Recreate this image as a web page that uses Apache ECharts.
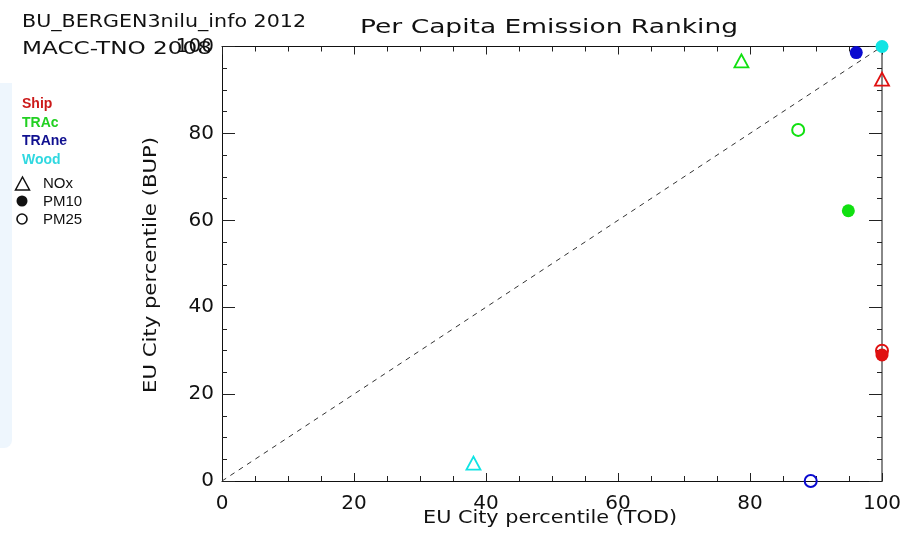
<!DOCTYPE html>
<html>
<head>
<meta charset="utf-8">
<script src="https://cdn.jsdelivr.net/npm/echarts@6/dist/echarts.min.js"></script>
<style>html,body{margin:0;padding:0;background:#fff}#c{width:922px;height:541px}</style>
</head>
<body>
<div id="c"></div>
<script>
// ---- data (x = TOD percentile, y = BUP percentile), order: NOx, PM10, PM25 ----
const species = ['NOx', 'PM10', 'PM25'];
const sources = ['Ship', 'TRAc', 'TRAne', 'Wood'];
const shipX  = [100, 100, 100];
const shipY  = [92.5, 29, 30];
const tracX  = [78.7, 94.9, 87.3];
const tracY  = [96.7, 62.2, 80.8];
const traneX = [null, 96.1, 89.2];
const traneY = [null, 98.6, 0];
const woodX  = [38.1, 100, null];
const woodY  = [4.1, 100, null];
const axisTicks = [0, 20, 40, 60, 80, 100];

const sourceColors = ['#e01010', '#10e010', '#0a0ad0', '#10e4e4'];
const labelColors  = ['#cc1a1a', '#22d022', '#101090', '#30d8e0'];
const sourceX = [shipX, tracX, traneX, woodX];
const sourceY = [shipY, tracY, traneY, woodY];

const chart = echarts.init(document.getElementById('c'), null, {renderer: 'canvas'});

const ctx = document.createElement('canvas').getContext('2d');
function fitScale(text, font, target) {
  ctx.font = font;
  return target / ctx.measureText(text).width;
}

const series = [];
series.push({
  type: 'line', data: [[0, 0], [100, 100]], symbol: 'none', silent: true,
  lineStyle: {color: '#333', width: 1, type: [5, 5]}, z: 1
});
// draw order: PM25 (open), NOx (triangle), PM10 (filled)
const order = [2, 0, 1];
sources.forEach((s, si) => {
  order.forEach(k => {
    const x = sourceX[si][k], y = sourceY[si][k];
    if (x === null || y === null) return;
    const c = sourceColors[si];
    let item;
    if (k === 0) {
      item = {symbol: 'triangle', symbolSize: [14, 13],
        itemStyle: {color: 'rgba(0,0,0,0)', borderColor: c, borderWidth: 1.8, opacity: 1}};
    } else if (k === 1) {
      item = {symbol: 'circle', symbolSize: 13, itemStyle: {color: c, opacity: 1}};
    } else {
      item = {symbol: 'circle', symbolSize: 12,
        itemStyle: {color: 'rgba(0,0,0,0)', borderColor: c, borderWidth: 2, opacity: 1}};
    }
    series.push(Object.assign({
      type: 'scatter', name: s + ' ' + species[k], data: [[x, y]],
      clip: false, z: 3, emphasis: {disabled: true}
    }, item));
  });
});

function axisBase(extra) {
  return Object.assign({
    type: 'value', min: 0, max: 100, interval: 20,
    splitLine: {show: false},
    axisLine: {show: true, onZero: false, lineStyle: {color: '#111', width: 1}},
    axisTick: {show: true, inside: true, length: 8, lineStyle: {color: '#222'}},
    minorTick: {show: true, splitNumber: 4, length: 5, lineStyle: {color: '#222'}},
    axisLabel: {show: false}
  }, extra);
}

const fTitle = '20px "DejaVu Sans"';
const fHead = '18px "DejaVu Sans"';
const fName = '18px "DejaVu Sans"';
const fLeg = 'bold 14px "Liberation Sans"';
const fSym = '15px "Liberation Sans"';

const graphics = [
  {type: 'rect', shape: {x: 0, y: 83, width: 12, height: 365, r: [0, 0, 8, 0]},
   style: {fill: '#eef6fd'}, z: -10, silent: true},
  {type: 'text', x: 549, y: 28, scaleX: fitScale('Per Capita Emission Ranking', fTitle, 378),
   style: {text: 'Per Capita Emission Ranking', font: fTitle, fill: '#111', align: 'center', verticalAlign: 'middle'}},
  {type: 'text', x: 22, y: 22, scaleX: fitScale('BU_BERGEN3nilu_info 2012', fHead, 284),
   style: {text: 'BU_BERGEN3nilu_info 2012', font: fHead, fill: '#111', align: 'left', verticalAlign: 'middle'}},
  {type: 'text', x: 22, y: 49, scaleX: fitScale('MACC-TNO 2008', fHead, 190),
   style: {text: 'MACC-TNO 2008', font: fHead, fill: '#111', align: 'left', verticalAlign: 'middle'}},
  {type: 'text', x: 550, y: 518, scaleX: fitScale('EU City percentile (TOD)', fName, 254),
   style: {text: 'EU City percentile (TOD)', font: fName, fill: '#111', align: 'center', verticalAlign: 'middle'}},
  {type: 'text', x: 151, y: 265, rotation: Math.PI / 2, scaleX: fitScale('EU City percentile (BUP)', fName, 256),
   style: {text: 'EU City percentile (BUP)', font: fName, fill: '#111', align: 'center', verticalAlign: 'middle'}}
];
sources.forEach((s, i) => {
  graphics.push({type: 'text', x: 22, y: 104 + i * 18.7,
    style: {text: s, font: fLeg, fill: labelColors[i], align: 'left', verticalAlign: 'middle'}});
});
// species legend
graphics.push({type: 'polygon', shape: {points: [[15.5, 190], [29.5, 190], [22.5, 177]]},
  style: {fill: 'none', stroke: '#111', lineWidth: 1.5}});
graphics.push({type: 'circle', shape: {cx: 22, cy: 201, r: 5.5}, style: {fill: '#111'}});
graphics.push({type: 'circle', shape: {cx: 22, cy: 219, r: 5}, style: {fill: 'none', stroke: '#111', lineWidth: 1.6}});
species.forEach((sp, i) => {
  graphics.push({type: 'text', x: 43, y: 184 + i * 17.8,
    style: {text: sp, font: fSym, fill: '#111', align: 'left', verticalAlign: 'middle'}});
});

chart.setOption({
  animation: false,
  backgroundColor: '#fff',
  grid: {left: 222, right: 40, top: 46.5, bottom: 60},
  xAxis: [
    axisBase({position: 'bottom',
      axisLabel: {show: true, fontSize: 20, fontFamily: 'DejaVu Sans', color: '#111', margin: 13,
        formatter: v => axisTicks.indexOf(v) >= 0 ? String(v) : ''}}),
    axisBase({position: 'top'})
  ],
  yAxis: [
    axisBase({position: 'left',
      axisTick: {show: true, inside: true, length: 13, lineStyle: {color: '#222'}},
      axisLabel: {show: true, fontSize: 20, fontFamily: 'DejaVu Sans', color: '#111', margin: 8,
        formatter: v => axisTicks.indexOf(v) >= 0 ? String(v) : ''}}),
    axisBase({position: 'right',
      axisLine: {show: true, onZero: false, lineStyle: {color: '#888', width: 2}},
      axisTick: {show: true, inside: true, length: 13, lineStyle: {color: '#222'}}})
  ],
  series: series,
  graphic: graphics
});
</script>
</body>
</html>
